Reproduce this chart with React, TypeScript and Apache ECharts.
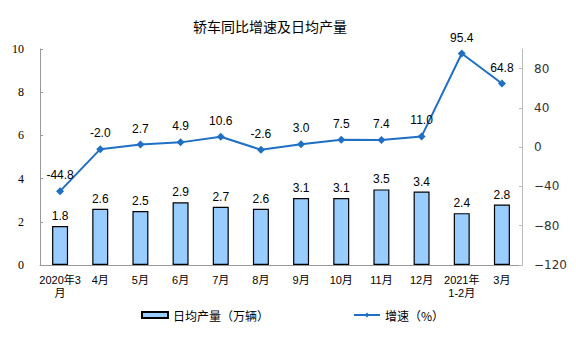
import React, { useEffect, useRef } from "react";
import * as echarts from "echarts";

const categories = ["2020年3\n月", "4月", "5月", "6月", "7月", "8月", "9月", "10月", "11月", "12月", "2021年\n1-2月", "3月"];
const dailyOutput = [1.8, 2.6, 2.5, 2.9, 2.7, 2.6, 3.1, 3.1, 3.5, 3.4, 2.4, 2.8];
const growth = [-44.8, -2.0, 2.7, 4.9, 10.6, -2.6, 3.0, 7.5, 7.4, 11.0, 95.4, 64.8];
const leftTicks = [0, 2, 4, 6, 8, 10];
const rightTicks = [-120, -80, -40, 0, 40, 80];

export default function App() {
  const ref = useRef<HTMLDivElement>(null);
  useEffect(() => {
    if (!ref.current) return;
    const chart = echarts.init(ref.current, undefined, { renderer: "svg" });
    const cjk = "'Liberation Sans', 'Noto Sans CJK SC', sans-serif";
    chart.setOption({
      animation: false,
      backgroundColor: "#ffffff",
      title: {
        text: "轿车同比增速及日均产量",
        left: 265,
        top: 14,
        textAlign: "center",
        textStyle: { fontSize: 14, fontWeight: "normal", color: "#000", fontFamily: "'Noto Sans CJK SC', sans-serif" },
      },
      legend: {
        top: 304,
        left: 136,
        itemGap: 84,
        itemWidth: 26,
        itemHeight: 6,
        textStyle: { fontSize: 12, color: "#000", fontFamily: "'Noto Sans CJK SC', sans-serif" },
        data: [
          { name: "日均产量（万辆）", icon: "rect" },
          { name: "增速（%）" },
        ],
      },
      grid: { left: 40, right: 54, top: 49, bottom: 93, containLabel: false },
      xAxis: {
        type: "category",
        data: categories,
        axisLine: { lineStyle: { color: "#999" } },
        axisTick: { inside: true, length: 3, lineStyle: { color: "#999" } },
        axisLabel: { fontSize: 11, color: "#000", lineHeight: 13, margin: 8, interval: 0, fontFamily: cjk },
      },
      yAxis: [
        {
          type: "value",
          min: 0,
          max: 10,
          interval: 2,
          splitLine: { show: false },
          axisLine: { show: true, lineStyle: { color: "#999" } },
          axisTick: { show: true, inside: true, length: 3, lineStyle: { color: "#999" } },
          axisLabel: { fontSize: 12, color: "#000", margin: 16, fontFamily: "'Liberation Serif', serif" },
        },
        {
          type: "value",
          min: -120,
          max: 100,
          interval: 40,
          position: "right",
          splitLine: { show: false },
          axisLine: { show: true, lineStyle: { color: "#bbb" } },
          axisTick: { show: true, inside: true, length: 3, lineStyle: { color: "#bbb" } },
          axisLabel: {
            fontSize: 12,
            color: "#333",
            margin: 12,
            showMaxLabel: false,
            fontFamily: "'DejaVu Sans', sans-serif",
            formatter: (v: number) => (v === 100 ? "" : String(v).replace("-", "−")),
          },
        },
      ],
      series: [
        {
          name: "日均产量（万辆）",
          type: "bar",
          data: dailyOutput,
          barWidth: 16,
          itemStyle: { color: "#99ccff", borderColor: "#000", borderWidth: 1.2 },
          label: {
            show: true,
            position: "top",
            distance: 4,
            fontSize: 12,
            color: "#000",
            fontFamily: "'Liberation Sans', sans-serif",
            formatter: (p: any) => p.value.toFixed(1),
          },
        },
        {
          name: "增速（%）",
          type: "line",
          yAxisIndex: 1,
          data: growth,
          symbol: "diamond",
          symbolSize: 8,
          lineStyle: { color: "#1f6fc5", width: 2 },
          itemStyle: { color: "#1f6fc5" },
          label: {
            show: true,
            position: "top",
            distance: 6,
            fontSize: 12,
            color: "#000",
            fontFamily: "'Liberation Sans', sans-serif",
            formatter: (p: any) => p.value.toFixed(1),
          },
        },
      ],
    });
    return () => chart.dispose();
  }, []);
  return <div ref={ref} style={{ position: "absolute", left: 0, top: 0, width: 576, height: 358 }} />;
}
